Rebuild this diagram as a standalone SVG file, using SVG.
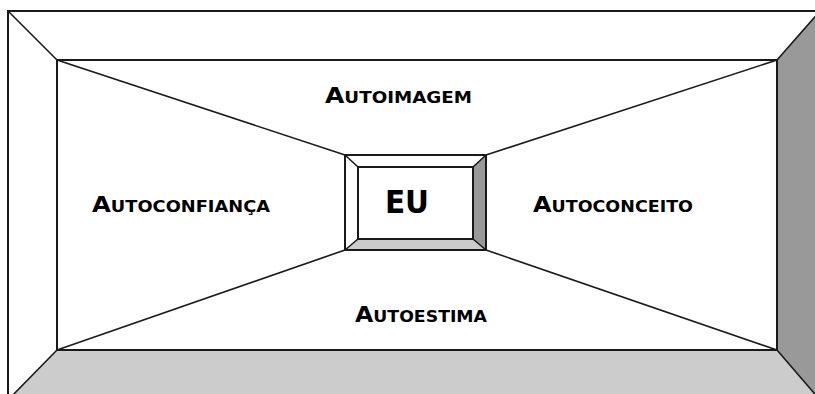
<svg xmlns="http://www.w3.org/2000/svg" width="815" height="394" viewBox="0 0 815 394">
<style>
.edge{stroke:#1a1a1a;stroke-width:2;fill:none}
.diag{stroke:#1a1a1a;stroke-width:1.6;fill:none}
.lbl{font-family:"DejaVu Sans",Verdana,sans-serif;font-weight:bold;fill:#000}
.big{font-size:20.5px}
.sm{font-size:15px}
</style>
<rect x="0" y="0" width="815" height="394" fill="#fff"/>
<g id="frame">
<polygon points="8,11 57,60 57,350 8,400" fill="#fff"/>
<polygon points="8,11 820,11 777,60 57,60" fill="#fff"/>
<polygon points="820,11 777,60 777,350 820,400" fill="#999"/>
<polygon points="8,400 57,350 777,350 820,400" fill="#ccc"/>
<rect x="57" y="60" width="720" height="290" fill="#fff"/>
<rect class="edge" x="8" y="11" width="812" height="389"/>
<rect class="edge" x="57" y="60" width="720" height="290"/>
<line class="diag" x1="8" y1="11" x2="57" y2="60"/>
<line class="diag" x1="820" y1="11" x2="777" y2="60"/>
<line class="diag" x1="8" y1="400" x2="57" y2="350"/>
<line class="diag" x1="820" y1="400" x2="777" y2="350"/>
</g>
<g id="connectors">
<line class="diag" x1="57" y1="60" x2="345" y2="155"/>
<line class="diag" x1="777" y1="60" x2="486" y2="155"/>
<line class="diag" x1="57" y1="350" x2="345" y2="250"/>
<line class="diag" x1="777" y1="350" x2="486" y2="250"/>
</g>
<g id="eu">
<polygon points="345,155 358,167 358,239 345,250" fill="#fff"/>
<polygon points="345,155 486,155 473,167 358,167" fill="#fff"/>
<polygon points="486,155 473,167 473,239 486,250" fill="#999"/>
<polygon points="345,250 358,239 473,239 486,250" fill="#ccc"/>
<rect x="358" y="167" width="115" height="72" fill="#fff"/>
<rect class="edge" x="345" y="155" width="141" height="95"/>
<rect class="edge" x="358" y="167" width="115" height="72"/>
<line class="diag" x1="345" y1="155" x2="358" y2="167"/>
<line class="diag" x1="486" y1="155" x2="473" y2="167"/>
<line class="diag" x1="345" y1="250" x2="358" y2="239"/>
<line class="diag" x1="486" y1="250" x2="473" y2="239"/>
<text class="lbl" x="385" y="213" font-size="32" textLength="44" lengthAdjust="spacingAndGlyphs">EU</text>
</g>
<g id="autoimagem">
<text class="lbl" x="325" y="103" textLength="147" lengthAdjust="spacingAndGlyphs"><tspan class="big">A</tspan><tspan class="sm">UTOIMAGEM</tspan></text>
</g>
<g id="autoconfianca">
<text class="lbl" x="92" y="212" textLength="178" lengthAdjust="spacingAndGlyphs"><tspan class="big">A</tspan><tspan class="sm">UTOCONFIANÇA</tspan></text>
</g>
<g id="autoconceito">
<text class="lbl" x="533" y="212" textLength="160" lengthAdjust="spacingAndGlyphs"><tspan class="big">A</tspan><tspan class="sm">UTOCONCEITO</tspan></text>
</g>
<g id="autoestima">
<text class="lbl" x="355" y="322" textLength="132" lengthAdjust="spacingAndGlyphs"><tspan class="big">A</tspan><tspan class="sm">UTOESTIMA</tspan></text>
</g>
</svg>
